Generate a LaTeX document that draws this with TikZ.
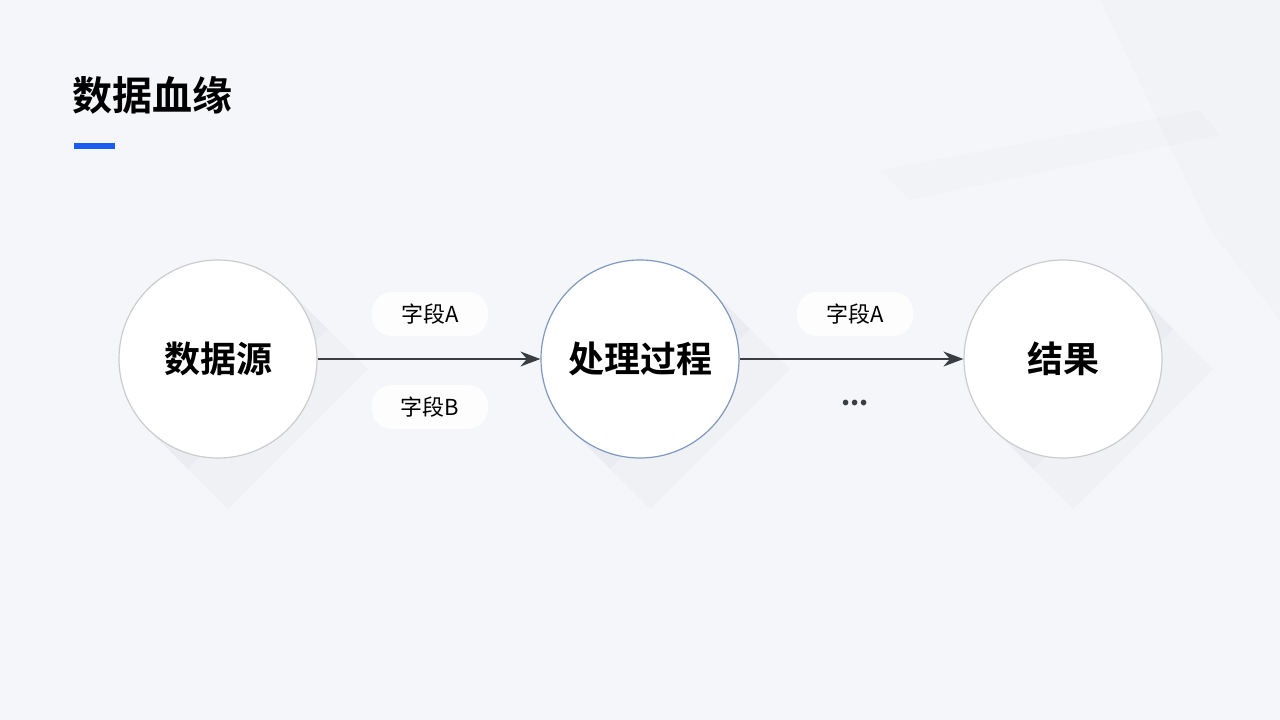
\documentclass[tikz,border=0pt]{standalone}
\usepackage{fontspec}
\setmainfont{Noto Sans CJK SC}
\newfontfamily\cjkb{Noto Sans CJK SC Bold}
\usetikzlibrary{arrows.meta}
\definecolor{bg}{HTML}{F4F6F9}
\definecolor{ringgray}{HTML}{CCCCCC}
\definecolor{ringblue}{HTML}{7F98BD}
\definecolor{arrowc}{HTML}{3A3D42}
\definecolor{barblue}{HTML}{1A5CF0}
\tikzset{
  x=1pt,y=-1pt,
  circ/.style={circle,minimum size=198pt,inner sep=0pt,fill=white,draw=ringgray,line width=1.2pt,font=\cjkb\fontsize{36}{40}\selectfont},
  pill/.style={rounded corners=20pt,fill=white,fill opacity=0.85,text opacity=1,minimum width=116pt,minimum height=44pt,inner sep=0pt,font=\fontsize{22}{24}\selectfont},
  flow/.style={-{Stealth[length=20pt,width=15pt]},line width=1.5pt,draw=arrowc},
  shadowpoly/.style={fill=black!70!blue,fill opacity=0.018,draw=none}
}
\begin{document}
\begin{tikzpicture}
\fill[bg] (0,0) rectangle (1280,720);
\useasboundingbox (0,0) rectangle (1280,720);
% soft leaf shadows (top right)
\fill[black,opacity=0.012] (1100,0) -- (1280,0) -- (1280,320) -- (1210,230) -- cycle;
\fill[black,opacity=0.01] (880,170) -- (1200,110) -- (1220,135) -- (910,200) -- cycle;
% long shadows
\foreach \cx in {218,640,1063}{
  \fill[shadowpoly] (\cx-70,359+70) -- (\cx+70,359-70) -- (\cx+150,359+10) -- (\cx+10,359+150) -- cycle;
  \fill[shadowpoly] (\cx-70,359+70) -- (\cx+70,359-70) -- (\cx+110,359-30) -- (\cx-30,359+110) -- cycle;
}
\node[circ] (src) at (218,359) {数据源};
\node[circ,draw=ringblue] (proc) at (640,359) {处理过程};
\node[circ] (res) at (1063,359) {结果};
\draw[flow] (src.east) -- (proc.west);
\draw[flow] (proc.east) -- (res.west);
\node[pill] (fa1) at (430,314) {字段A};
\node[pill] (fb1) at (430,407) {字段B};
\node[pill] (fa2) at (855,314) {字段A};
\node[font=\bfseries\fontsize{26}{28}\selectfont,text=arrowc] (dots) at (855,403) {...};
% title
\node[anchor=west,font=\cjkb\fontsize{40}{44}\selectfont,inner sep=0pt] (title) at (72,95) {数据血缘};
\fill[barblue] (74,143) rectangle (115,149);
\end{tikzpicture}
\end{document}
